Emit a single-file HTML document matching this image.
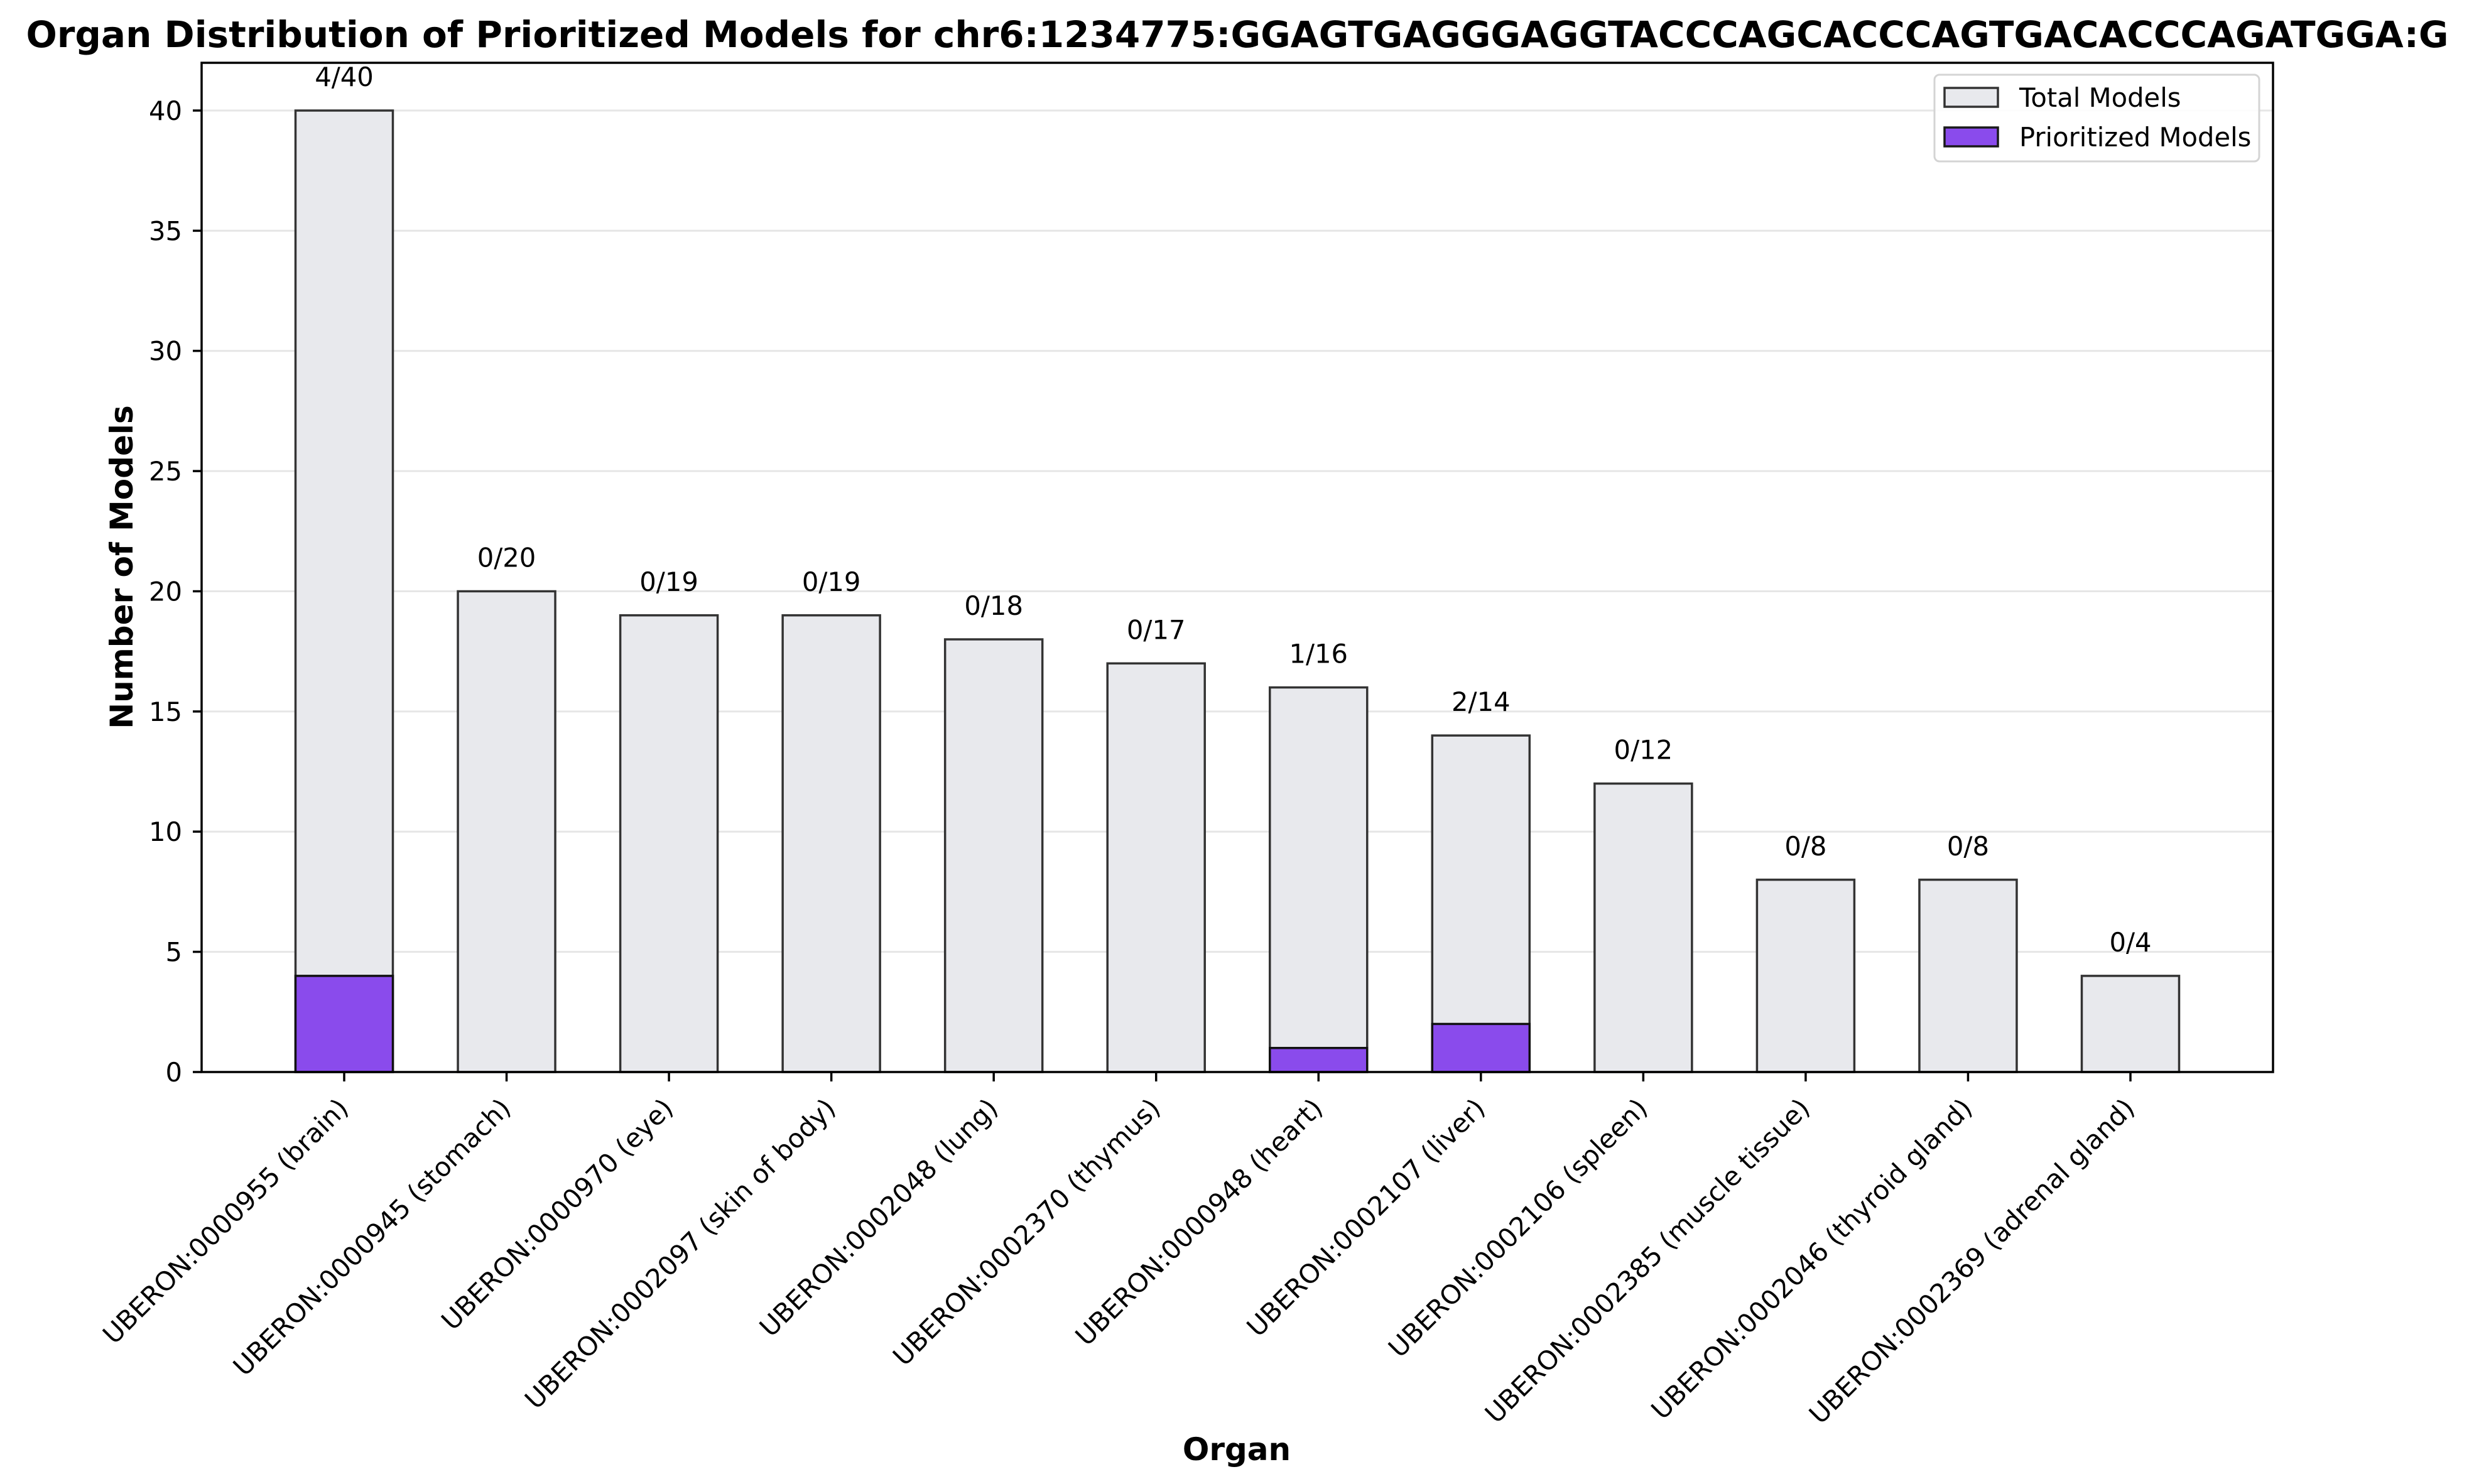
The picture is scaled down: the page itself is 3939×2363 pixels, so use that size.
<!DOCTYPE html>
<html><head><meta charset="utf-8"><style>
html,body{margin:0;padding:0;background:#fff;}
svg{display:block;}
text{font-family:"DejaVu Sans","Liberation Sans",sans-serif;}
</style></head><body>
<svg width="3939" height="2363" viewBox="0 0 3939 2363" xmlns="http://www.w3.org/2000/svg">
<rect width="3939" height="2363" fill="#fff"/>
<text x="1970" y="75" font-size="58" font-weight="bold" text-anchor="middle">Organ Distribution of Prioritized Models for chr6:1234775:GGAGTGAGGGAGGTACCCAGCACCCAGTGACACCCAGATGGA:G</text>
<g stroke="#e6e6e6" stroke-width="3">
<line x1="321" x2="3619" y1="1515.6" y2="1515.6"/>
<line x1="321" x2="3619" y1="1324.2" y2="1324.2"/>
<line x1="321" x2="3619" y1="1132.9" y2="1132.9"/>
<line x1="321" x2="3619" y1="941.5" y2="941.5"/>
<line x1="321" x2="3619" y1="750.1" y2="750.1"/>
<line x1="321" x2="3619" y1="558.7" y2="558.7"/>
<line x1="321" x2="3619" y1="367.4" y2="367.4"/>
<line x1="321" x2="3619" y1="176" y2="176"/>
</g>
<g id="bars"></g>
<g font-size="41.7" text-anchor="end">
<text x="290" y="1722">0</text>
<text x="290" y="1530.6">5</text>
<text x="290" y="1339.2">10</text>
<text x="290" y="1147.9">15</text>
<text x="290" y="956.5">20</text>
<text x="290" y="765.1">25</text>
<text x="290" y="573.7">30</text>
<text x="290" y="382.4">35</text>
<text x="290" y="191">40</text>
</g>
<g stroke="#000" stroke-width="3.5">
<line x1="307" x2="321" y1="1707" y2="1707"/>
<line x1="307" x2="321" y1="1515.6" y2="1515.6"/>
<line x1="307" x2="321" y1="1324.2" y2="1324.2"/>
<line x1="307" x2="321" y1="1132.9" y2="1132.9"/>
<line x1="307" x2="321" y1="941.5" y2="941.5"/>
<line x1="307" x2="321" y1="750.1" y2="750.1"/>
<line x1="307" x2="321" y1="558.7" y2="558.7"/>
<line x1="307" x2="321" y1="367.4" y2="367.4"/>
<line x1="307" x2="321" y1="176" y2="176"/>
</g>
<g id="xt"></g>
<rect x="321" y="100" width="3298" height="1607" fill="none" stroke="#000" stroke-width="3.5"/>
<text transform="translate(211,903) rotate(-90)" font-size="50" font-weight="bold" text-anchor="middle">Number of Models</text>
<text x="1969" y="2325" font-size="50" font-weight="bold" text-anchor="middle">Organ</text>
<rect x="3080" y="119" width="517" height="138" rx="8" fill="#fff" fill-opacity="0.85" stroke="#d4d4d4" stroke-width="3"/>
<rect x="3096" y="140" width="85" height="30" fill="#e8e9ed" stroke="#333" stroke-width="3.5"/>
<rect x="3096" y="203" width="85" height="30" fill="#8a4bec" stroke="#1a1a1a" stroke-width="3.5"/>
<text x="3215" y="170" font-size="41.7">Total Models</text>
<text x="3215" y="233" font-size="41.7">Prioritized Models</text>
</svg>
<script>
(function(){
var tot=[40,20,19,19,18,17,16,14,12,8,8,4],pr=[4,0,0,0,0,0,1,2,0,0,0,0];
var lab=["UBERON:0000955 (brain)","UBERON:0000945 (stomach)","UBERON:0000970 (eye)","UBERON:0002097 (skin of body)","UBERON:0002048 (lung)","UBERON:0002370 (thymus)","UBERON:0000948 (heart)","UBERON:0002107 (liver)","UBERON:0002106 (spleen)","UBERON:0002385 (muscle tissue)","UBERON:0002046 (thyroid gland)","UBERON:0002369 (adrenal gland)"];
var NS="http://www.w3.org/2000/svg",b=document.getElementById('bars'),xt=document.getElementById('xt');
function el(t,a,p,txt){var e=document.createElementNS(NS,t);for(var k in a)e.setAttribute(k,a[k]);if(txt)e.textContent=txt;p.appendChild(e);return e;}
var y0=1707,s=38.275;
for(var i=0;i<12;i++){var cx=548+i*258.545,x=cx-77.5;
var ty=y0-tot[i]*s;
el('rect',{x:x,y:ty,width:155,height:tot[i]*s,fill:'#e8e9ed',stroke:'#333','stroke-width':3.5},b);
if(pr[i]>0)el('rect',{x:x,y:y0-pr[i]*s,width:155,height:pr[i]*s,fill:'#8a4bec',stroke:'#111','stroke-width':3.5},b);
el('text',{x:cx,y:ty-39,'font-size':41.7,'text-anchor':'middle'},b,pr[i]+'/'+tot[i]);
el('line',{x1:cx,x2:cx,y1:1707,y2:1722,stroke:'#000','stroke-width':3.5},xt);
el('text',{transform:'translate('+(cx+9)+',1767) rotate(-45)','font-size':41.7,'text-anchor':'end'},xt,lab[i]);
}
})();
</script>
</body></html>
